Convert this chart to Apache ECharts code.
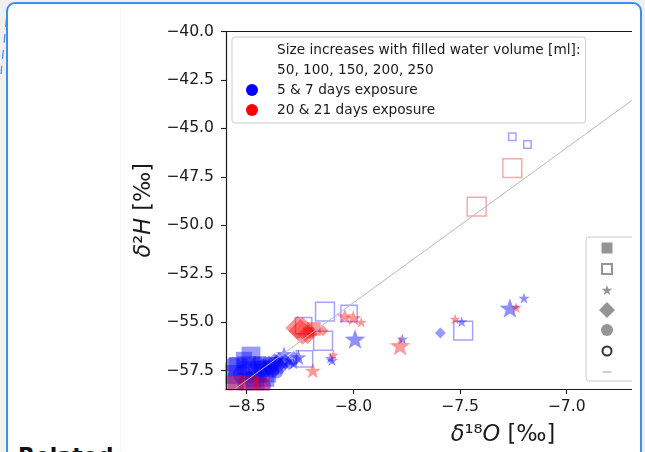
<!DOCTYPE html>
<html><head><meta charset="utf-8">
<script src="https://cdn.jsdelivr.net/npm/echarts@6/dist/echarts.min.js"></script>
<style>
html,body{margin:0;padding:0;width:645px;height:452px;overflow:hidden;background:#f0f0f0;font-family:'DejaVu Sans',sans-serif;}
#box{position:absolute;left:6px;top:1.5px;width:635.5px;height:480px;border:2px solid #3d8fe8;border-radius:9px;background:#fff;box-sizing:border-box;}
#faint{position:absolute;left:120px;top:8px;width:1px;height:444px;background:#f6f6f6;}
#clip{position:absolute;left:0;top:0;width:632px;height:452px;overflow:hidden;}
#chart{position:absolute;left:0;top:0;width:780px;height:452px;}
#related{position:absolute;left:18px;top:445px;font:bold 22px 'DejaVu Sans';color:#111;line-height:22px;}
#dash{position:absolute;left:0;top:0;}
</style></head>
<body>
<svg id="dash" width="12" height="80"><line x1="6.5" y1="18" x2="1" y2="74" stroke="#3d8fe8" stroke-width="1.2" stroke-dasharray="9 7"/></svg>
<div id="box"></div>
<div id="faint"></div>
<div id="related">Related</div>
<div id="clip"><div id="chart"></div></div>
<script>
// ---- data: [δ18O, δ2H, filled water volume ml] ----
const xTicks = [-8.5, -8.0, -7.5, -7.0];
const yTicks = [-57.5, -55.0, -52.5, -50.0, -47.5, -45.0, -42.5, -40.0];
const gmwl = [[-8.6, -58.8], [-6.0, -38.0]];

const blueFilledSquare = [
  [-8.480,-56.75,250],[-8.541,-57.31,250],[-8.485,-57.51,250],[-8.428,-57.41,200],
  [-8.409,-57.92,200],[-8.461,-58.08,250],[-8.550,-58.03,200],[-8.391,-57.15,150],
  [-8.513,-56.95,200],[-8.440,-57.10,150],[-8.500,-57.25,250],[-8.450,-57.65,250],
  [-8.400,-57.70,200],[-8.560,-57.70,250],[-8.470,-57.95,200],[-8.380,-57.35,150]
];
const blueCircle = [
  [-8.564,-57.21,200],[-8.447,-57.21,200],[-8.381,-57.52,150],[-8.424,-58.29,200],
  [-8.353,-57.06,100],[-8.520,-57.70,250],[-8.420,-57.35,200],[-8.360,-57.55,150],
  [-8.500,-58.20,250],[-8.330,-57.10,100]
];
const blueDiamond = [
  [-8.395,-57.25,150],[-8.370,-57.00,100],[-8.340,-57.30,100],[-8.300,-57.20,50],
  [-8.350,-56.85,50],[-8.320,-57.05,100],[-8.280,-56.90,100],[-8.360,-57.20,150],
  [-7.592,-55.56,50]
];
const blueStar = [
  [-7.266,-54.27,150],[-7.200,-53.76,50],[-7.492,-54.98,50],[-7.770,-55.87,50],
  [-7.992,-55.87,150],[-8.107,-56.86,50],[-8.100,-56.98,50],[-8.258,-56.81,100],
  [-8.325,-56.64,100],[-8.306,-56.98,50],[-8.280,-57.15,50]
];
const blueOpenSquare = [
  [-7.255,-45.43,50],[-7.184,-45.83,50],[-7.485,-55.44,250],[-8.020,-54.55,200],
  [-8.133,-54.46,250],[-8.142,-55.96,250],[-8.229,-56.90,200],[-8.233,-55.18,200]
];
const redFilledSquare = [
  [-8.560,-58.23,250],[-8.485,-58.23,250],[-8.428,-58.29,200],[-8.185,-55.35,150],
  [-8.210,-55.55,100]
];
const redDiamond = [
  [-8.238,-55.44,250],[-8.262,-55.30,200],[-8.215,-55.62,150],[-8.142,-55.44,50]
];
const redStar = [
  [-8.190,-57.50,100],[-8.094,-56.69,50],[-8.040,-54.69,100],[-8.000,-54.78,100],
  [-7.963,-55.00,50],[-7.781,-56.21,150],[-7.523,-54.84,50],[-7.237,-54.25,50]
];
const redOpenSquare = [
  [-7.255,-47.05,250],[-7.422,-49.04,250]
];

const legendTop = ['Size increases with filled water volume [ml]:', '50, 100, 150, 200, 250',
  '5 & 7 days exposure', '20 & 21 days exposure'];
const legendTopColors = ['rgba(0,0,0,0)', 'rgba(0,0,0,0)', '#0000ff', '#ff0000'];

// ---- styling ----
const FONT = 'DejaVu Sans';
const BLUE = 'rgba(0,0,255,0.5)', RED = 'rgba(255,0,0,0.5)';
const BLUE_EDGE = 'rgba(0,0,255,0.45)', RED_EDGE = 'rgba(235,40,40,0.5)';
const volScale = {50:1, 100:1.45, 150:1.85, 200:2.2, 250:2.55};
const STAR = 'path://M50,0L61.8,33.8L97.6,34.5L69.1,56.2L79.4,90.5L50,70L20.6,90.5L30.9,56.2L2.4,34.5L38.2,33.8Z';

function sc(name, data, symbol, color, base, hollow) {
  return {
    type: 'scatter', name, data, symbol, symbolKeepAspect: true,
    symbolSize: d => base * volScale[d[2]],
    itemStyle: hollow ? {color: 'rgba(0,0,0,0)', borderColor: color, borderWidth: 1.5}
                      : {color: color, borderWidth: 0},
    silent: true, z: 2
  };
}
function starPath(size, box) {
  const o = (box - size) / 2, pts = [];
  for (let i = 0; i < 10; i++) {
    const r = (i % 2 ? 0.2 : 0.5) * size, a = -Math.PI / 2 + i * Math.PI / 5;
    pts.push((o + size/2 + r*Math.cos(a)).toFixed(2) + ',' + (o + size/2 + r*Math.sin(a) + size*0.05).toFixed(2));
  }
  return 'path://M0,0M' + pts.join('L') + 'ZM' + box + ',' + box;
}
const legendShapes = [
  {name: 'filled square', icon: 'path://M0,0M2.5,2.5H13.5V13.5H2.5ZM16,16', color: '#7a7a7a', border: null},
  {name: 'open square', icon: 'path://M0,0M3,3H13V13H3ZM16,16', color: '#fff', border: '#7a7a7a'},
  {name: 'star', icon: starPath(11, 16), color: '#7a7a7a', border: null},
  {name: 'diamond', icon: 'path://M8,0L16,8L8,16L0,8Z', color: '#7a7a7a', border: null},
  {name: 'filled circle', icon: 'path://M0,0M14,8A6,6 0 1 1 2,8A6,6 0 1 1 14,8ZM16,16', color: '#7a7a7a', border: null},
  {name: 'open circle', icon: 'path://M0,0M12.5,8A4.5,4.5 0 1 1 3.5,8A4.5,4.5 0 1 1 12.5,8ZM16,16', color: '#fff', border: '#000'},
  {name: 'line', icon: 'path://M0,0M3.5,7.3H12.5V8.7H3.5ZM16,16', color: '#aaaaaa', border: null}
];

const chart = echarts.init(document.getElementById('chart'), null, {renderer: 'canvas'});
const axisLine = {show: true, lineStyle: {color: '#1a1a1a', width: 1.2}};
const fmt = v => v.toFixed(1).replace('-', '\u2212');

const series = [
  sc('b-fsq', blueFilledSquare, 'rect', BLUE, 7.4, false),
  sc('b-cir', blueCircle, 'circle', BLUE, 7.4, false),
  sc('b-dia', blueDiamond, 'diamond', BLUE, 11, false),
  sc('b-star', blueStar, STAR, 'rgba(0,0,255,0.55)', 11.2, false),
  sc('b-osq', blueOpenSquare, 'rect', BLUE_EDGE, 7.4, true),
  sc('r-fsq', redFilledSquare, 'rect', RED, 7.4, false),
  sc('r-dia', redDiamond, 'diamond', RED, 11, false),
  sc('r-star', redStar, STAR, RED, 11.2, false),
  sc('r-osq', redOpenSquare, 'rect', RED_EDGE, 7.4, true),
  {type: 'line', name: 'GMWL', data: gmwl, symbol: 'none', silent: true, z: 5,
   lineStyle: {color: '#b8b8b8', width: 1}, clip: true}
];
legendTop.forEach((n, i) => series.push({type: 'scatter', name: n, data: [], itemStyle: {color: legendTopColors[i]}}));
legendShapes.forEach(s => series.push({
  type: 'scatter', name: s.name, data: [],
  itemStyle: {color: s.color, borderColor: s.border || s.color, borderWidth: s.border ? (s.name === 'open circle' ? 1.8 : 1.5) : 0}
}));

chart.setOption({
  animation: false,
  backgroundColor: 'transparent',
  textStyle: {fontFamily: FONT},
  grid: {left: 226, top: 31.5, width: 554, height: 358.5, containLabel: false},
  xAxis: [{
    type: 'value', min: -8.597, max: -6.0, z: 60,
    axisLine, splitLine: {show: false},
    axisTick: {show: true, customValues: xTicks, length: 5, lineStyle: {color: '#1a1a1a', width: 1.1}},
    axisLabel: {customValues: xTicks, formatter: fmt, fontSize: 15.6, color: '#1a1a1a', fontFamily: FONT, margin: 10},
    name: '{i|δ}\u00b9\u2078{i|O} [‰]', nameLocation: 'middle', nameGap: 35,
    nameTextStyle: {fontSize: 22.5, color: '#1a1a1a', fontFamily: FONT,
      rich: {i: {fontStyle: 'italic', fontSize: 22.5, fontFamily: FONT, color: '#1a1a1a'}}}
  }, {
    type: 'value', position: 'top', min: -8.597, max: -6.0, z: 60,
    axisLine, axisTick: {show: false}, axisLabel: {show: false}, splitLine: {show: false}
  }],
  yAxis: {
    type: 'value', min: -58.45, max: -40, z: 60,
    axisLine, splitLine: {show: false},
    axisTick: {show: true, customValues: yTicks, length: 5, lineStyle: {color: '#1a1a1a', width: 1.1}},
    axisLabel: {customValues: yTicks, formatter: fmt, fontSize: 15.6, color: '#1a1a1a', fontFamily: FONT, margin: 12},
    name: '{i|δ}\u00b2{i|H} [‰]', nameLocation: 'middle', nameGap: 69,
    nameTextStyle: {fontSize: 22.5, color: '#1a1a1a', fontFamily: FONT,
      rich: {i: {fontStyle: 'italic', fontSize: 22.5, fontFamily: FONT, color: '#1a1a1a'}}}
  },
  legend: [{
    data: legendTop.map((n, i) => ({name: n, icon: 'circle', itemStyle: {color: legendTopColors[i], opacity: 1}})),
    orient: 'vertical', left: 232, top: 37, selectedMode: false,
    itemWidth: 12, itemHeight: 12, itemGap: 0,
    padding: [3, 5, 3, 14],
    backgroundColor: 'rgba(255,255,255,0.85)', borderColor: '#cccccc', borderWidth: 1, borderRadius: 3,
    textStyle: {fontSize: 13.7, fontFamily: FONT, color: '#1a1a1a', lineHeight: 20, padding: [0, 0, 0, 14]}
  }, {
    data: legendShapes.map(s => ({name: s.name, icon: s.icon})),
    orient: 'vertical', left: 586, top: 237, selectedMode: false,
    itemWidth: 16, itemHeight: 16, itemGap: 4,
    padding: [3, 60, 1, 12],
    formatter: () => '',
    backgroundColor: 'rgba(255,255,255,0.85)', borderColor: '#cccccc', borderWidth: 1, borderRadius: 3,
    textStyle: {fontSize: 12}
  }],
  graphic: [
    {type: 'rect', shape: {x: 200, y: 390.6, width: 600, height: 10}, style: {fill: '#fff'}, z: 50, silent: true},
    {type: 'rect', shape: {x: 200, y: 20, width: 25.4, height: 380}, style: {fill: '#fff'}, z: 50, silent: true}
  ],
  series
});
</script>
</body></html>
